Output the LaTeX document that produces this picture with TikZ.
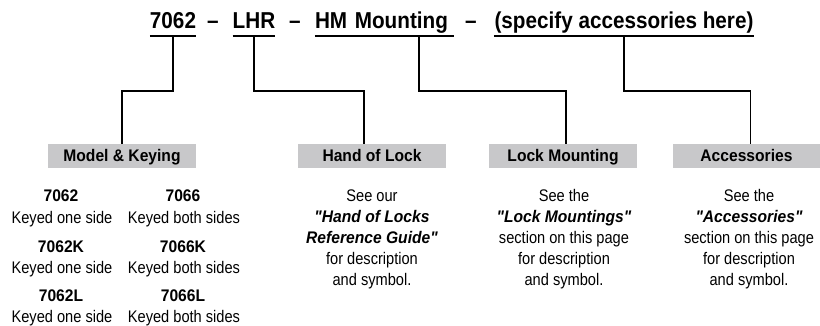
\documentclass[tikz,border=0pt]{standalone}
\usepackage{fontspec}
\setmainfont{Liberation Sans}[FakeStretch=0.87]
\newfontfamily\hbfam{Liberation Sans}[FakeStretch=0.93]
\newfontfamily\ttfam{Liberation Sans}[FakeStretch=0.9]
\newcommand{\hbf}{\hbfam\bfseries}
\newcommand{\hbi}{\hbfam\bfseries\itshape}
\usetikzlibrary{calc}
\definecolor{boxgray}{RGB}{200,200,202}
\begin{document}
\begin{tikzpicture}[x=1pt,y=-1pt,
 ttl/.style={font=\fontsize{23}{27}\ttfam\bfseries, inner sep=0pt, anchor=base, text depth=7pt},
 hdr/.style={fill=boxgray, minimum width=148pt, minimum height=24pt, inner sep=0pt, text height=12pt, text depth=0pt, font=\fontsize{16.8}{21}\hbf},
 ul/.style={line width=1.8pt},
 conn/.style={line width=1.8pt},
 num/.style={font=\fontsize{16.8}{21}\hbf, inner sep=0pt, anchor=base},
 desc/.style={font=\fontsize{16.8}{21}\selectfont, inner sep=0pt, anchor=base},
 col/.style={font=\fontsize{16.8}{21}\selectfont, inner sep=0pt, anchor=base, align=center}
]
\useasboundingbox (0,0) rectangle (820,326);
% title
\node[ttl, minimum width=44pt] (t1) at (173,29) {7062};
\node[ttl] (d1) at (213,29) {–};
\node[ttl, minimum width=34pt] (t2) at (254,29) {LHR};
\node[ttl] (d2) at (295,29) {–};
\node[ttl, text width=139pt, align=left] (t3) at (384.5,29) {HM Mounting};
\node[ttl] (d3) at (471,29) {–};
\node[ttl, minimum width=260pt] (t4) at (624,29) {(specify accessories here)};
\foreach \t in {t1,t2,t3,t4} \draw[ul] (\t.south west) -- (\t.south east);
% boxes
\node[hdr] (b1) at (122,156) {Model \& Keying};
\node[hdr] (b2) at (372,156) {Hand of Lock};
\node[hdr] (b3) at (563,156) {Lock Mounting};
\node[hdr, minimum width=147pt] (b4) at (746.5,156) {Accessories};
% connectors
\draw[conn] (t1.south) -- ++(0,55) -| (b1.north);
\draw[conn] (t2.south) -- ++(0,55) -| ($(b2.north)+(-8,0)$);
\draw[conn] ($(t3.south west)+(104,0)$) -- ++(0,55) -| ($(b3.north)+(3,0)$);
\draw[conn] (t4.south) -- ++(0,55) -| ($(b4.north)+(4,0)$);
% model & keying list
\node[num] (m1) at (61,202) {7062};
\node[num] (m2) at (183,202) {7066};
\node[desc] (k1) at (62,223) {Keyed one side};
\node[desc] (k2) at (184,223) {Keyed both sides};
\node[num] (m3) at (61,252) {7062K};
\node[num] (m4) at (183,252) {7066K};
\node[desc] (k3) at (62,273) {Keyed one side};
\node[desc] (k4) at (184,273) {Keyed both sides};
\node[num] (m5) at (61,301) {7062L};
\node[num] (m6) at (183,301) {7066L};
\node[desc] (k5) at (62,322) {Keyed one side};
\node[desc] (k6) at (184,322) {Keyed both sides};
% columns (base anchor = last line)
\node[col] (c2) at (372,285) {See our\\{\hbi "Hand of Locks}\\{\hbi Reference Guide"}\\for description\\and symbol.};
\node[col] (c3) at (564,285) {See the\\{\hbi "Lock Mountings"}\\section on this page\\for description\\and symbol.};
\node[col] (c4) at (749,285) {See the\\{\hbi "Accessories"}\\section on this page\\for description\\and symbol.};
\end{tikzpicture}
\end{document}
